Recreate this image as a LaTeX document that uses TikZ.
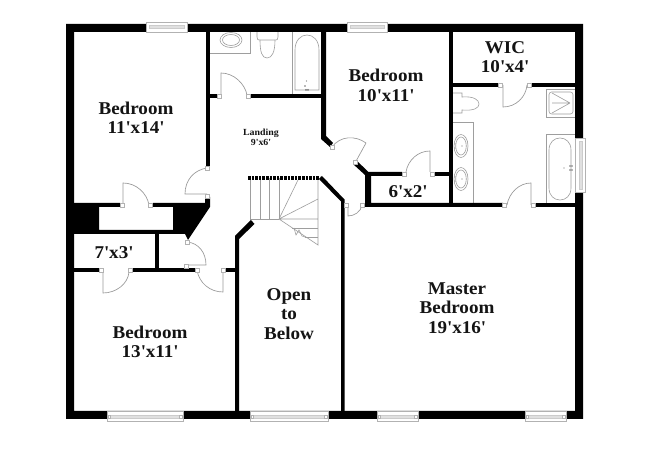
\documentclass[tikz,border=0pt]{standalone}
\usepackage{fontspec}
\setmainfont{Liberation Serif}[BoldFeatures={FakeStretch=1.06}]
\newcommand{\ap}{\textquotesingle}
\tikzset{
 wall/.style={fill=black,draw=none},
 fix/.style={draw=black!38,line width=0.45pt,fill=none},
 doorline/.style={draw=black!40,line width=0.5pt},
 jamb/.style={draw=black!30,fill=white,line width=0.4pt},
 win/.style={draw=black!30,fill=white,line width=0.5pt},
 winbar/.style={draw=black!20,fill=black!12,line width=0.3pt},
 lab/.style={font=\bfseries\fontsize{13.5pt}{14.6pt}\selectfont,align=center,text=black!92,inner sep=0pt},
 smalllab/.style={font=\bfseries\fontsize{7pt}{7.6pt}\selectfont,align=center,text=black!92,inner sep=0pt},
}
\newcommand{\jambat}[2]{\draw[jamb] (#1-1.8,#2-1.8) rectangle (#1+1.8,#2+1.8);}
\begin{document}
\begin{tikzpicture}[x=0.75pt,y=-0.75pt]
\useasboundingbox (0,0) rectangle (650,473);
\fill[white] (0,0) rectangle (650,473);
% fixtures: bath
\draw[fix] (209,53) -- (250,53) -- (250,32);
\draw[fix] (231,40) ellipse (11 and 7.5);
\draw[fix] (231,40) ellipse (8.5 and 5.5);
\draw[fix] (257,32) -- (257,37) .. controls (257,40) and (258,40) .. (260,40) -- (275,40) .. controls (277,40) and (278,40) .. (278,37) -- (278,32);
\draw[fix] (260,40) .. controls (260,52) and (262,58) .. (267,58) .. controls (272,58) and (275,52) .. (275,40);
\draw[fix] (292,32) -- (292,94);
\draw[fix] (295,90) -- (295,50) .. controls (295,30) and (319,30) .. (319,50) -- (319,90) -- cycle;
\fill[black!55] (305,86) circle (0.8) (306,90) circle (1) (308,90) circle (1) (306.5,81) circle (0.6);
% fixtures: master bath
\draw[fix] (453,93) -- (462,93) -- (462,97) .. controls (474,96) and (479,100) .. (479,104) .. controls (479,108) and (474,111) .. (462,110) -- (462,113) -- (453,113);
\draw[fix] (453,122) -- (473,122) -- (473,203);
\draw[fix] (461,146) ellipse (7 and 11.5);
\draw[fix] (461,146) ellipse (5.3 and 9);
\draw[fix] (461,179) ellipse (7 and 11.5);
\draw[fix] (461,179) ellipse (5.3 and 9);
\fill[black!55] (455,144) circle (0.7) (455,148) circle (0.7) (462,146) circle (0.6) (455,177) circle (0.7) (455,181) circle (0.7) (462,179) circle (0.6);
\draw[fix] (575,89) -- (546,89) -- (546,117) -- (575,117);
\draw[fix,rounded corners=2pt] (549,92) rectangle (573,114);
\draw[fix] (570,103) -- (552,93) (570,103) -- (552,113) (570,103) -- (552,103);
\draw[fix] (575,134) -- (546,134) -- (546,203);
\draw[fix] (549,150) .. controls (549,134) and (571,134) .. (571,150) -- (571,188) .. controls (571,204) and (549,204) .. (549,188) -- cycle;
\fill[black!55] (570,166) circle (0.8) (570,170) circle (0.8) (572,166) circle (0.8) (572,170) circle (0.8) (564,168) circle (0.7);
% stairs
\draw[fix] (250.5,178) -- (250.5,219) -- (279,219);
\draw[fix] (260,178) -- (260,219) (269.5,178) -- (269.5,219) (279,178) -- (279,219);
\draw[fix] (279,219) -- (298,180) (279,219) -- (318,199) (279,219) -- (318,219) (279,219) -- (318,245) -- (318,178);
\draw[fix] (292,228) -- (318,228) (305,237) -- (318,237);
\draw[fix] (294,228) -- (296,235) -- (299,230) -- (302,236) -- (305,237);
\draw[black,line width=3pt,dash pattern=on 2pt off 0.7pt] (248,178) -- (320,178);
% outer walls
\fill[wall,even odd rule] (66,24) rectangle (583,419) (74,32) rectangle (575,411);
% upper interior walls
\fill[wall] (206,32) rectangle (209.5,167);
\fill[wall] (209,94) rectangle (217,98);
\fill[wall] (249,94) rectangle (321,98);
\fill[wall] (321,32) -- (326,32) -- (326,136) -- (333,143) -- (330,147) -- (321,139) -- cycle;
\fill[wall] (356,160) -- (368.5,172) -- (402,172) -- (402,176) -- (371,176) -- (371,203) -- (503,203) -- (503,207) -- (365,207) -- (365,175) -- (353,164) -- cycle;
\fill[wall] (434,172) rectangle (449,176);
\fill[wall] (449,32) rectangle (453,204);
\fill[wall] (453,83) rectangle (498,87);
\fill[wall] (531,83) rectangle (575,87);
\fill[wall] (535,203) rectangle (575,207);
% black mass, closet walls
\fill[wall,even odd rule] (74,203) -- (120,203) -- (120,207) -- (153,207) -- (153,203) -- (205,203) -- (205,197) -- (210,197) -- (210,207) -- (188,240) -- (185,234) -- (74,234) -- cycle (99,207) rectangle (173,230);
\fill[white] (120,203) rectangle (153,207);
\fill[wall] (155,234) rectangle (159,268);
\fill[wall] (74,268) rectangle (99,272);
\fill[wall] (132,268) rectangle (195,272);
\fill[wall] (225,268) rectangle (236,272);
% stair walls
\fill[wall] (235,419) -- (235,236) -- (251,220) -- (254.5,224) -- (239,239) -- (239,419) -- cycle;
\fill[wall] (341,419) -- (341,201.5) -- (319,179) -- (322,176) -- (344.5,199.5) -- (344.5,419) -- cycle;
% doors
\draw[doorline,fill=white] (221,95) -- (221,73) .. controls (234,73) and (245,84) .. (247,95);
\draw[doorline,fill=white] (123,205) -- (123,183) .. controls (136,183) and (147,193) .. (149,205);
\draw[doorline] (207,168) .. controls (194,170) and (185,180) .. (185,194) -- (207,194);
\draw[doorline] (103,272) -- (103,293) .. controls (116,293) and (128,284) .. (129,272);
\draw[doorline] (187,242) .. controls (199,243) and (206,253) .. (206,265) -- (185,265);
\draw[doorline] (223,270) -- (223,292) .. controls (210,292) and (199,283) .. (197,270);
\draw[doorline] (332,147) .. controls (340,136) and (355,135) .. (366,143) -- (355,163);
\draw[doorline] (348,205) -- (348,216) .. controls (354,216) and (361,212) .. (362,205);
\draw[doorline] (430,172) -- (430,151) .. controls (418,151) and (408,160) .. (406,172);
\draw[doorline] (503,85) -- (503,107) .. controls (516,107) and (526,97) .. (527,85);
\draw[doorline] (531,205) -- (531,183) .. controls (519,183) and (509,193) .. (507,205);
% jambs
\jambat{219}{96}\jambat{248}{96}\jambat{207}{168}\jambat{207}{196}
\jambat{122}{205}\jambat{150}{205}\jambat{101}{270}\jambat{130}{270}
\jambat{187}{242}\jambat{197}{270}\jambat{186}{266}\jambat{223}{270}
\jambat{332}{147}\jambat{355}{162}\jambat{346}{205}\jambat{362}{205}
\jambat{404}{174}\jambat{432}{174}\jambat{500}{85}\jambat{529}{85}
\jambat{504}{205}\jambat{533}{205}
% windows
\foreach \a/\b in {146/187,347/387}{
 \draw[win] (\a,22) rectangle (\b,32);
 \draw[winbar] (\a+3,25.5) rectangle (\b-3,28);}
\foreach \a/\b in {107/183,250/328,377/418,525/566}{
 \draw[win] (\a,411) rectangle (\b,421);
 \draw[winbar] (\a+2,415) rectangle (\b-2,418);
 \draw[jamb] (\a+1,415) rectangle (\a+3.5,418);
 \draw[jamb] (\b-3.5,415) rectangle (\b-1,418);}
\draw[win] (575,138) rectangle (585,192);
\draw[winbar] (579,141) rectangle (582,189);
% labels
\node[lab] (bedA) at (136,118) {Bedroom\\11\ap x14\ap};
\node[smalllab] (landing) at (261,137) {Landing\\9\ap x6\ap};
\node[lab] (bedB) at (386,85.5) {Bedroom\\10\ap x11\ap};
\node[lab] (wic) at (505,57) {WIC\\10\ap x4\ap};
\node[lab] (clA) at (408,192) {6\ap x2\ap};
\node[lab] (clB) at (114,253) {7\ap x3\ap};
\node[lab] (bedC) at (150,342) {Bedroom\\13\ap x11\ap};
\node[lab] (open) at (289,314) {Open\\to\\Below};
\node[lab] (master) at (457,308) {Master\\Bedroom\\19\ap x16\ap};
\end{tikzpicture}
\end{document}
